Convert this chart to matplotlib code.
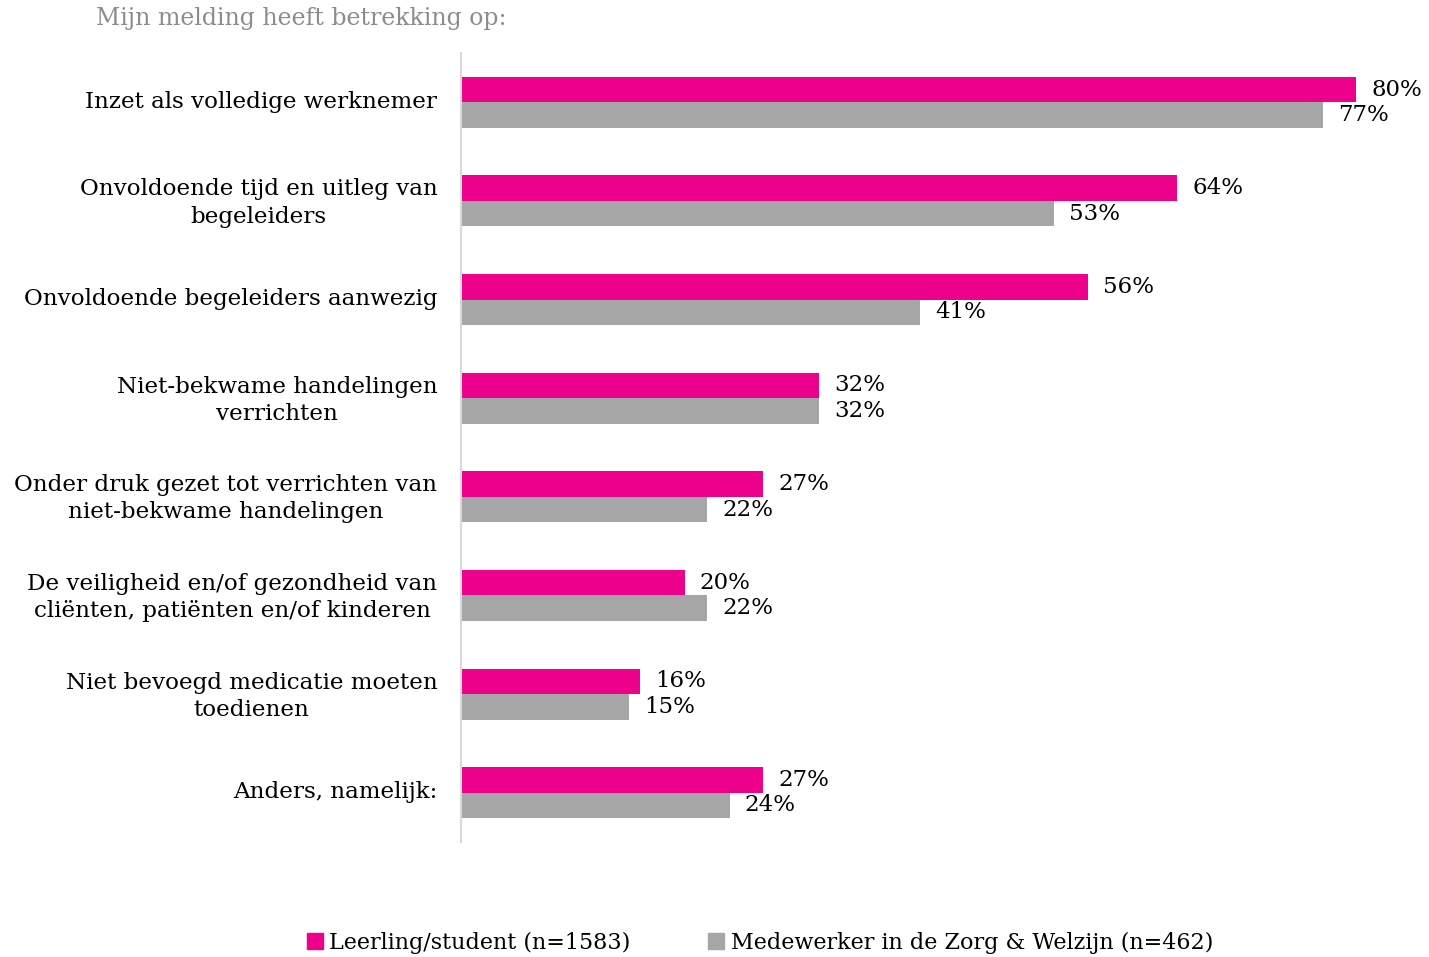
"""
Horizontal grouped bar chart: Mijn melding heeft betrekking op.
"""
import matplotlib
matplotlib.use('Agg')
import matplotlib.pyplot as plt
import matplotlib.transforms as mtransforms
from matplotlib.patches import Patch

# Data
categories = [
    'Inzet als volledige werknemer',
    'Onvoldoende tijd en uitleg van\nbegeleiders',
    'Onvoldoende begeleiders aanwezig',
    'Niet-bekwame handelingen\nverrichten',
    'Onder druk gezet tot verrichten van\nniet-bekwame handelingen',
    'De veiligheid en/of gezondheid van\ncliënten, patiënten en/of kinderen',
    'Niet bevoegd medicatie moeten\ntoedienen',
    'Anders, namelijk:',
]
students = [80, 64, 56, 32, 27, 20, 16, 27]
staff = [77, 53, 41, 32, 22, 22, 15, 24]
series_names = ['Leerling/student (n=1583)', 'Medewerker in de Zorg & Welzijn (n=462)']

PINK = '#EC008C'
GREY = '#A6A6A6'
FONT = 'DejaVu Serif'

plt.rcParams['font.family'] = FONT

fig = plt.figure(figsize=(14.29, 9.57), dpi=100)
ax = fig.add_axes([461 / 1429, 1 - 842 / 957, 1 - 461 / 1429, (842 - 53) / 957])

h = 0.259
y = list(range(len(categories)))
ax.barh([i - h / 2 for i in y], students, height=h, color=PINK)
ax.barh([i + h / 2 for i in y], staff, height=h, color=GREY)

# Value labels
for i, (s, m) in enumerate(zip(students, staff)):
    ax.text(s + 1.35, i - h / 2, f'{s}%', va='center', ha='left', fontsize=16.5)
    ax.text(m + 1.35, i + h / 2, f'{m}%', va='center', ha='left', fontsize=16.5)

ax.set_xlim(0, 86.5)
ax.set_ylim(len(categories) - 0.5, -0.5)
ax.set_yticks(y)
ax.set_yticklabels(categories, fontsize=16.6, multialignment='center', linespacing=1.3)
ax.tick_params(axis='y', length=0, pad=17)
# nudge category labels up a few pixels
offset = mtransforms.ScaledTranslation(0, 3 / 100, fig.dpi_scale_trans)
for lbl in ax.get_yticklabels():
    lbl.set_transform(lbl.get_transform() + offset)
ax.set_xticks([])
for side in ['top', 'right', 'bottom']:
    ax.spines[side].set_visible(False)
ax.spines['left'].set_color('#D9D9D9')
ax.spines['left'].set_linewidth(1.5)

fig.text(96 / 1429, 1 - 18 / 957, 'Mijn melding heeft betrekking op:',
         color='#8C8C8C', fontsize=17, va='center', ha='left')

handles = [Patch(color=PINK), Patch(color=GREY)]
fig.legend(handles, series_names, loc='center', bbox_to_anchor=(760 / 1429, 1 - 943 / 957),
           ncol=2, frameon=False, fontsize=16, handlelength=0.7, handleheight=0.7,
           handletextpad=0.3, columnspacing=3.5)

fig.savefig('out.png', dpi=100)
